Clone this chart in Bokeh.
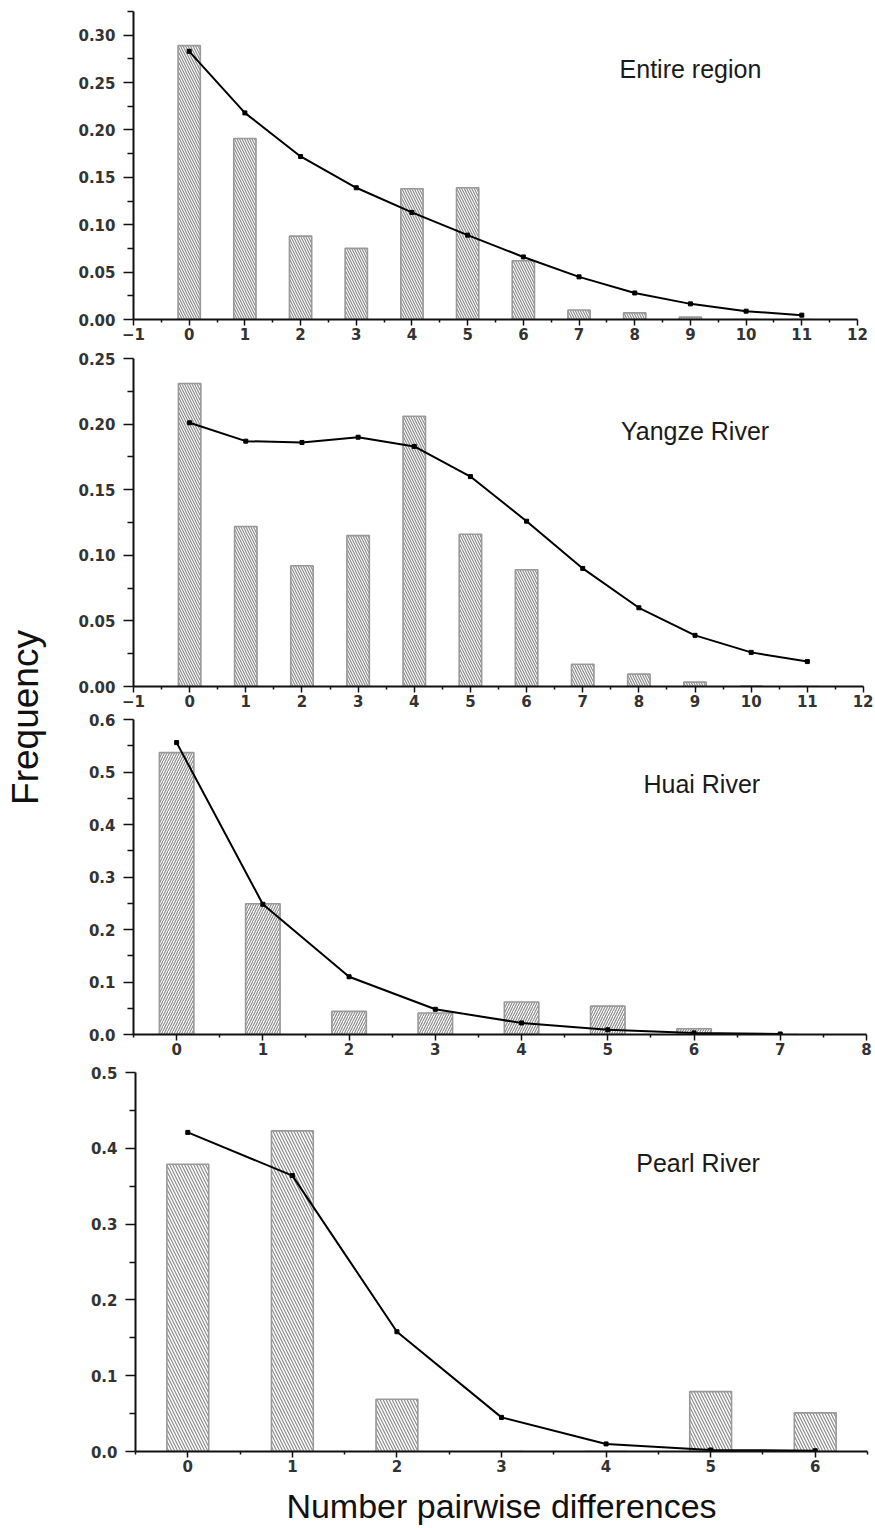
import math
from bokeh.plotting import figure
from bokeh.models import FixedTicker, PrintfTickFormatter, Label, Range1d, ColumnDataSource
from bokeh.layouts import row, column
from bokeh.embed import file_html
from bokeh.resources import INLINE

# ---------------- data ----------------
entire_x = list(range(12))
entire_obs = [0.289, 0.191, 0.088, 0.075, 0.138, 0.139, 0.062, 0.010, 0.007, 0.0025, 0.0, 0.0]
entire_exp = [0.283, 0.218, 0.172, 0.139, 0.113, 0.089, 0.066, 0.045, 0.028, 0.0165, 0.0088, 0.0046]

yangze_x = list(range(12))
yangze_obs = [0.231, 0.122, 0.092, 0.115, 0.206, 0.116, 0.089, 0.017, 0.0094, 0.0033, 0.0003, 0.0]
yangze_exp = [0.201, 0.187, 0.186, 0.190, 0.183, 0.160, 0.126, 0.090, 0.060, 0.039, 0.026, 0.019]

huai_x = list(range(8))
huai_obs = [0.537, 0.249, 0.044, 0.041, 0.062, 0.054, 0.011, 0.0]
huai_exp = [0.556, 0.248, 0.110, 0.048, 0.022, 0.009, 0.003, 0.001]

pearl_x = list(range(7))
pearl_obs = [0.379, 0.423, 0.069, 0.0, 0.0, 0.079, 0.051]
pearl_exp = [0.421, 0.364, 0.158, 0.045, 0.010, 0.002, 0.001]

titles = ["Entire region", "Yangze River", "Huai River", "Pearl River"]
y_label = "Frequency"
x_label = "Number pairwise differences"

TICK_FONT = "DejaVu Sans"
TITLE_FONT = "Liberation Sans"


def frange(a, b, step):
    n = int(round((b - a) / step))
    return [round(a + i * step, 6) for i in range(n + 1)]


def make_panel(xs, obs, exp, title, xr, yr, xmaj, xmin, ymaj, ymin, yfmt,
               hatch, hscale, tpos, height, bt, bb, bl, br, xlabel=None):
    p = figure(width=805, height=height, x_range=Range1d(*xr), y_range=Range1d(*yr),
               toolbar_location=None, output_backend="svg",
               min_border_top=bt, min_border_bottom=bb, min_border_left=bl, min_border_right=br)
    p.xgrid.visible = False
    p.ygrid.visible = False
    p.outline_line_color = None
    src = ColumnDataSource(dict(x=xs, obs=obs, exp=exp))
    p.vbar(x="x", top="obs", width=0.4, bottom=0, source=src,
           fill_color="white", line_color="#999999", line_width=1.6,
           hatch_pattern=hatch, hatch_color="#8c8c8c", hatch_scale=hscale, hatch_weight=1.2)
    p.line(x="x", y="exp", source=src, line_color="black", line_width=2)
    p.scatter(x="x", y="exp", source=src, marker="square", size=4,
              fill_color="black", line_color="black")

    for ax in (p.xaxis[0], p.yaxis[0]):
        ax.axis_line_width = 2
        ax.axis_line_color = "#111111"
        ax.major_tick_line_width = 1.5
        ax.minor_tick_line_width = 1.5
        ax.major_tick_line_color = "#111111"
        ax.minor_tick_line_color = "#111111"
        ax.major_tick_in = 0
        ax.minor_tick_in = 0
        ax.major_label_text_font = TICK_FONT
        ax.major_label_text_font_style = "bold"
        ax.major_label_text_font_size = "15px"
        ax.major_label_text_color = "#333333"

    p.xaxis.ticker = FixedTicker(ticks=xmaj, minor_ticks=xmin)
    p.xaxis.major_tick_out = 6
    p.xaxis.minor_tick_out = 3
    p.xaxis.major_label_standoff = 2
    p.yaxis.ticker = FixedTicker(ticks=ymaj, minor_ticks=ymin)
    p.yaxis.formatter = PrintfTickFormatter(format=yfmt)
    p.yaxis.major_tick_out = 10
    p.yaxis.minor_tick_out = 6
    p.yaxis.major_label_standoff = 8

    if xlabel:
        p.xaxis.axis_label = xlabel
        p.xaxis.axis_label_text_font = TITLE_FONT
        p.xaxis.axis_label_text_font_style = "normal"
        p.xaxis.axis_label_text_font_size = "34px"
        p.xaxis.axis_label_text_color = "#111111"
        p.xaxis.axis_label_standoff = 12

    p.add_layout(Label(x=tpos[0], y=tpos[1], text=title, text_align="center",
                       text_baseline="middle", text_font=TITLE_FONT,
                       text_font_size="25px", text_color="#1a1a1a"))
    return p


p1 = make_panel(entire_x, entire_obs, entire_exp, titles[0],
                (-1, 12), (0, 0.325), list(range(-1, 13)), frange(-0.5, 11.5, 1.0),
                frange(0, 0.30, 0.05), frange(0.025, 0.325, 0.05), "%.2f",
                "\\", 5, (9.0, 0.264), 350, 11, 31, 65, 16)
p2 = make_panel(yangze_x, yangze_obs, yangze_exp, titles[1],
                (-1, 12), (0, 0.25), list(range(-1, 13)), frange(-0.5, 11.5, 1.0),
                frange(0, 0.25, 0.05), frange(0.025, 0.225, 0.05), "%.2f",
                "\\", 5, (9.0, 0.195), 361, 8, 25, 65, 10)
p3 = make_panel(huai_x, huai_obs, huai_exp, titles[2],
                (-0.5, 8), (0, 0.6), list(range(0, 9)), frange(-0.5, 7.5, 1.0),
                frange(0, 0.6, 0.1), frange(0.05, 0.55, 0.1), "%.1f",
                "/", 5, (6.09, 0.478), 351, 8, 28, 65, 7)
p4 = make_panel(pearl_x, pearl_obs, pearl_exp, titles[3],
                (-0.5, 6.5), (0, 0.5), list(range(0, 7)), frange(-0.5, 6.5, 1.0),
                frange(0, 0.5, 0.1), frange(0.05, 0.45, 0.1), "%.1f",
                "\\", 6, (4.88, 0.381), 466, 10, 77, 67, 6, xlabel=x_label)

left = figure(width=68, height=1528, x_range=Range1d(0, 68), y_range=Range1d(0, 1528),
              toolbar_location=None, output_backend="svg", min_border=0,
              x_axis_location=None, y_axis_location=None)
left.xgrid.visible = False
left.ygrid.visible = False
left.outline_line_color = None
left.add_layout(Label(x=25, y=811, text=y_label, angle=math.pi / 2,
                      text_align="center", text_baseline="middle",
                      text_font=TITLE_FONT, text_font_size="37px", text_color="#111111"))

layout = row(left, column(row(p1), row(p2), row(p3), row(p4)))
open("out.html", "w").write(file_html(layout, INLINE))
